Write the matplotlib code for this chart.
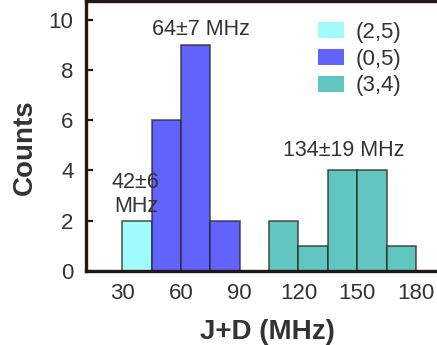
import matplotlib
matplotlib.use("Agg")
import matplotlib.pyplot as plt
import numpy as np

plt.rcParams['font.family'] = ['Liberation Sans', 'DejaVu Sans']

# histogram bins (MHz) and counts per group
bin_width = 15
left_25 = [30]
counts_25 = [2]
left_05 = [45, 60, 75]
counts_05 = [6, 9, 2]
left_34 = [105, 120, 135, 150, 165]
counts_34 = [2, 1, 4, 4, 1]

groups = [
    ("(2,5)", left_25, counts_25, "#a0fcfc"),
    ("(0,5)", left_05, counts_05, "#6262fc"),
    ("(3,4)", left_34, counts_34, "#62c6c0"),
]

text_col = "#333333"
spine_col = "#231815"

fig = plt.figure(figsize=(4.37, 3.45), dpi=100)
ax = fig.add_axes([0.197, 0.2145, 0.803, 0.783])

for name, lefts, counts, col in groups:
    ax.bar(lefts, counts, width=bin_width, align='edge', color=col,
           edgecolor=(0.15, 0.15, 0.15, 0.75), linewidth=1.2, label=name)

ax.set_xlim(11.6, 190.7)
ax.set_ylim(0, 10.75)
ax.set_xticks([30, 60, 90, 120, 150, 180])
ax.set_yticks([0, 2, 4, 6, 8, 10])
ax.tick_params(axis='x', length=0, pad=9, labelsize=16, labelcolor=text_col)
ax.tick_params(axis='y', direction='in', length=5, width=1.6, color=spine_col,
               pad=9, labelsize=16, labelcolor=text_col)

for side in ['left', 'bottom', 'top']:
    ax.spines[side].set_linewidth(2.4)
    ax.spines[side].set_color(spine_col)
ax.spines['right'].set_visible(False)

ax.set_xlabel("J+D (MHz)", fontsize=20, fontweight='bold', color=text_col)
ax.set_ylabel("Counts", fontsize=20, fontweight='bold', color=text_col)
ax.xaxis.set_label_coords(0.516, -0.178)
ax.yaxis.set_label_coords(-0.137, 0.459)

# peak labels
ax.text(37.0, 2.15, "42\u00b16\nMHz", ha='center', va='bottom', fontsize=15.5,
        color=text_col, linespacing=1.2)
ax.text(70.3, 9.6, "64\u00b17 MHz", ha='center', va='center', fontsize=15.5, color=text_col)
ax.text(143.3, 4.8, "134\u00b119 MHz", ha='center', va='center', fontsize=15.5, color=text_col)

leg = ax.legend(loc='upper left', bbox_to_anchor=(0.661, 0.922), frameon=False,
                fontsize=16, handlelength=1.15, handleheight=0.72, handletextpad=0.55,
                labelspacing=0.26, borderaxespad=0, borderpad=0)
for t in leg.get_texts():
    t.set_color(text_col)
for h in leg.legend_handles:
    h.set_edgecolor('none')

fig.savefig("out.png", dpi=100)
